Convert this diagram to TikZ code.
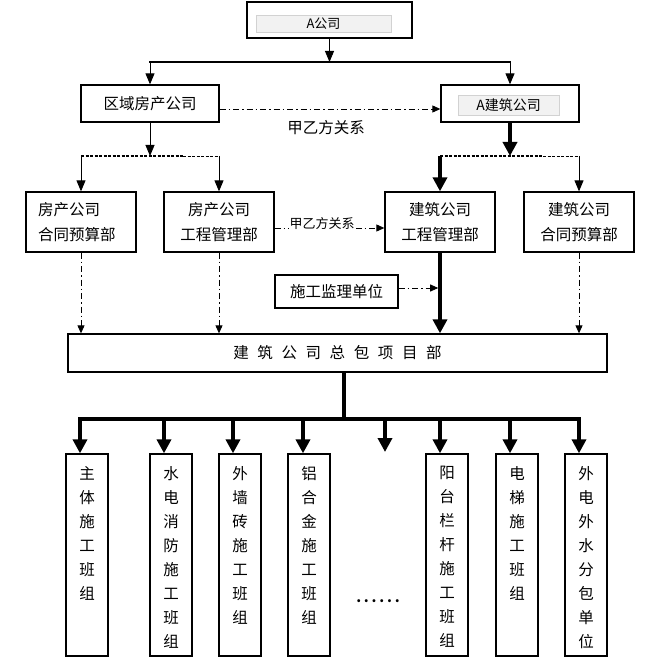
\documentclass[tikz,border=0pt]{standalone}
\usepackage{fontspec}
\setmainfont{Noto Sans CJK SC}
\usetikzlibrary{arrows.meta}
\newcommand{\myfs}[2]{\fontsize{#1}{#2}\selectfont}
\begin{document}
\begin{tikzpicture}[x=1pt,y=-1pt,
  box/.style={draw,line width=1.3pt,inner sep=0pt,align=center,font=\myfs{15.5pt}{25pt}},
  btn/.style={fill=gray!10,draw=gray!35,line width=0.6pt,inner sep=0pt},
  col/.style={draw,line width=1.3pt,inner sep=0pt,minimum width=42pt,minimum height=202pt},
  vtext/.style={inner sep=0pt,align=center,anchor=north,font=\myfs{15.5pt}{24pt}},
  tarr/.style={line width=0.9pt,-{Triangle[length=11pt,width=9pt]}},
  karr/.style={line width=3.5pt,-{Triangle[length=14pt,width=14pt]}},
  kline/.style={line width=3.5pt,line cap=rect},
  ddarr/.style={line width=0.9pt,dash pattern=on 6pt off 3pt on 1.5pt off 3pt,-{Triangle[length=8pt,width=7pt]}},
  dline/.style={dash pattern=on 3pt off 1.5pt},
]
\useasboundingbox (0,0) rectangle (670,671);

% level 1
\node[box,minimum width=165pt,minimum height=36pt] (acomp) at (329.5,20) {};
\node[btn,minimum width=135pt,minimum height=17pt,font=\myfs{13pt}{13pt}] (acompin) at (323.5,23.5) {A公司};

% level 2
\node[box,minimum width=138pt,minimum height=37pt] (region) at (150,103.5) {区域房产公司};
\node[box,minimum width=138pt,minimum height=37pt] (abuild) at (510,103.5) {};
\node[btn,minimum width=101pt,minimum height=20pt,font=\myfs{14pt}{14pt}] (abuildin) at (508.5,105) {A建筑公司};
\node[font=\myfs{15.5pt}{15.5pt}] (lbl1) at (326,128) {甲乙方关系};

% level 3
\node[box,minimum width=110pt,minimum height=60pt,text width=86pt,inner xsep=12pt,align=left] (hcb) at (81,222) {房产公司\\合同预算部};
\node[box,minimum width=110pt,minimum height=60pt] (hgm) at (219,222) {房产公司\\工程管理部};
\node[box,minimum width=110pt,minimum height=60pt] (jgm) at (440,222) {建筑公司\\工程管理部};
\node[box,minimum width=110pt,minimum height=60pt] (jcb) at (579,222) {建筑公司\\合同预算部};
\node[box,minimum width=123pt,minimum height=33pt] (sup) at (336.5,291.5) {施工监理单位};

% level 4
\node[box,minimum width=539pt,minimum height=38pt] (zongbao) at (337.5,353)
  {建\hspace{8.6pt}筑\hspace{8.6pt}公\hspace{8.6pt}司\hspace{8.6pt}总\hspace{8.6pt}包\hspace{8.6pt}项\hspace{8.6pt}目\hspace{8.6pt}部};

% teams
\node[col] (w1) at (87,555) {};
\node[col] (w2) at (171,555) {};
\node[col] (w3) at (240,555) {};
\node[col] (w4) at (309,555) {};
\node[col] (w6) at (447,555) {};
\node[col] (w7) at (517,555) {};
\node[col] (w8) at (586,555) {};
\node[vtext] (v1) at ([yshift=-13pt]w1.north) {主\\体\\施\\工\\班\\组};
\node[vtext] (v2) at ([yshift=-13pt]w2.north) {水\\电\\消\\防\\施\\工\\班\\组};
\node[vtext] (v3) at ([yshift=-13pt]w3.north) {外\\墙\\砖\\施\\工\\班\\组};
\node[vtext] (v4) at ([yshift=-13pt]w4.north) {铝\\合\\金\\施\\工\\班\\组};
\node[vtext] (v6) at ([yshift=-13pt]w6.north) {阳\\台\\栏\\杆\\施\\工\\班\\组};
\node[vtext] (v7) at ([yshift=-13pt]w7.north) {电\\梯\\施\\工\\班\\组};
\node[vtext] (v8) at ([yshift=-13pt]w8.north) {外\\电\\外\\水\\分\\包\\单\\位};
\node[inner sep=0pt,font=\bfseries\myfs{14pt}{14pt}] (dots) at (378,601) {.\kern2.8pt.\kern2.8pt.\kern2.8pt.\kern2.8pt.\kern2.8pt.};

% connectors: top
\coordinate (tbar) at (0,62);
\draw[line width=1.5pt,line cap=rect] (region.north |- tbar) -- (abuild.north |- tbar);
\draw[tarr] (acomp.south) -- (acomp.south |- tbar);
\draw[tarr] (region.north |- tbar) -- (region.north);
\draw[tarr] (abuild.north |- tbar) -- (abuild.north);
\draw[ddarr] ([yshift=-5.5pt]region.east) -- ([yshift=-5.5pt]abuild.west);

% connectors: second split
\coordinate (lbar) at (0,156);
\coordinate (lmid) at (183,156);
\coordinate (rmid) at (543,156);
\draw[tarr] (region.south) -- (region.south |- lbar);
\draw[dline,line width=1.6pt] (hcb.north |- lbar) -- (lmid);
\draw[dline,line width=0.9pt] (lmid) -- (hgm.north |- lbar);
\draw[tarr] (hcb.north |- lbar) -- (hcb.north);
\draw[tarr] (hgm.north |- lbar) -- (hgm.north);
\draw[karr] (abuild.south) -- (abuild.south |- lbar);
\draw[dline,line width=1.6pt] (jgm.north |- lbar) -- (rmid);
\draw[dline,line width=0.9pt] (rmid) -- (jcb.north |- lbar);
\draw[karr] (jgm.north |- lbar) -- (jgm.north);
\draw[tarr] (jcb.north |- lbar) -- (jcb.north);

% relation between departments
\draw[ddarr] ([yshift=-6pt]hgm.east) -- ([yshift=-6pt]jgm.west);
\node[fill=white,inner sep=1pt,font=\myfs{13pt}{13pt}] (lbl2) at (322,224) {甲乙方关系};

% down to zongbao
\draw[ddarr] (hcb.south) -- (hcb.south |- zongbao.north);
\draw[ddarr] (hgm.south) -- (hgm.south |- zongbao.north);
\draw[ddarr] (jcb.south) -- (jcb.south |- zongbao.north);
\draw[karr] (jgm.south) -- (jgm.south |- zongbao.north);
\draw[ddarr,shorten >=1.8pt] ([yshift=3.5pt]sup.east) -- ([yshift=3.5pt]sup.east -| jgm.south);

% bottom tree
\coordinate (stem) at (344,419);
\coordinate (c1) at (80,419);
\coordinate (c2) at (164,419);
\coordinate (c3) at (233,419);
\coordinate (c4) at (303,419);
\coordinate (c5) at (385,419);
\coordinate (c6) at (440,419);
\coordinate (c7) at (510,419);
\coordinate (c8) at (579,419);
\coordinate (d5) at (385,452);
\draw[kline] (stem |- zongbao.south) -- (stem);
\draw[kline] (c1) -- (c8);
\draw[karr] (c1) -- (c1 |- w1.north);
\draw[karr] (c2) -- (c2 |- w2.north);
\draw[karr] (c3) -- (c3 |- w3.north);
\draw[karr] (c4) -- (c4 |- w4.north);
\draw[karr] (c5) -- (d5);
\draw[karr] (c6) -- (c6 |- w6.north);
\draw[karr] (c7) -- (c7 |- w7.north);
\draw[karr] (c8) -- (c8 |- w8.north);
\end{tikzpicture}
\end{document}
